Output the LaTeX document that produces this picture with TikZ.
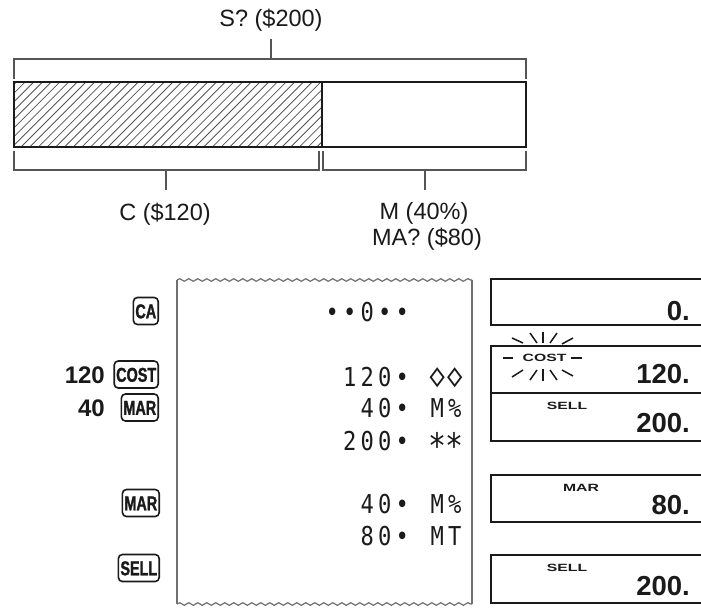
\documentclass[tikz,border=0pt]{standalone}
\usepackage{fontspec}
\setmainfont{Liberation Sans}
\newfontface\keyfont[FakeStretch=0.72,FakeBold=1.3]{Liberation Sans Bold}
\newfontfamily\tapefont[FakeStretch=0.85]{DejaVu Sans Mono}
\newfontface\lblfont[FakeStretch=1.5]{Liberation Sans Bold}
\usetikzlibrary{decorations.pathmorphing}
\definecolor{ink}{HTML}{1A1A1A}
\definecolor{brkgray}{HTML}{555555}
\definecolor{tapegray}{HTML}{707070}
\newcommand\tc[1]{\makebox[17.5pt][c]{#1}}
\newcommand\dmd{\scalebox{1.15}[1.3]{◇}}
\newcommand\tapeast{\raisebox{-8pt}{\scalebox{1.35}{*}}}
\tikzset{
  lab/.style={inner sep=0pt, text=ink, font=\fontsize{23.5}{26}\selectfont},
  brk/.style={draw=brkgray, line width=1.3pt},
  barline/.style={draw=ink, line width=2.5pt},
  hatchline/.style={draw=brkgray, line width=0.8pt},
  tapeline/.style={draw=tapegray, line width=1.2pt},
  wavy/.style={tapeline, decorate, decoration={snake, segment length=9pt, amplitude=1.3pt}},
  tapetext/.style={anchor=east, inner sep=0pt, text=ink, text height=19pt, text depth=0pt,
    font=\tapefont\fontsize{26}{26}\selectfont},
  keybox/.style={draw=ink, line width=1.6pt, rounded corners=4pt, inner xsep=2pt, inner ysep=0pt,
    minimum height=27pt, anchor=east, text=ink, text height=14.5pt, text depth=0pt,
    font=\keyfont\fontsize{20}{20}\selectfont},
  keynum/.style={anchor=east, inner sep=0pt, text=ink, text height=17pt, text depth=0pt,
    font=\bfseries\fontsize{24}{24}\selectfont},
  disp/.style={draw=ink, line width=2pt},
  dnum/.style={anchor=east, inner sep=0pt, text=ink, text height=20pt, text depth=0pt,
    font=\bfseries\fontsize{27.5}{27.5}\selectfont},
  dlbl/.style={inner sep=0pt, text=ink, text height=7.5pt, text depth=0pt,
    font=\lblfont\fontsize{10.5}{10.5}\selectfont},
  ray/.style={draw=ink, line width=1.5pt}
}
\begin{document}
\begin{tikzpicture}[x=1pt,y=-1pt]
\useasboundingbox (0,0) rectangle (701,608);
\fill[white] (0,0) rectangle (701,608);

% ---- top bar diagram ----
\node[lab] (S) at (271,20) {S? (\$200)};
\coordinate (stop) at (271,39);
\coordinate (sbot) at (271,59);
\draw[brk] (14,79) -- (14,59) -- (526,59) -- (526,79);
\draw[brk] (stop) -- (sbot);

\begin{scope}
  \clip (14,82) rectangle (322,147);
  \foreach \i in {-66,-57.3,...,330} \draw[hatchline] (\i,147) -- ++(66,-66);
\end{scope}
\draw[barline] (14,82) rectangle (526,147);
\draw[barline] (322,82) -- (322,147);

\draw[brk] (14,151) -- (14,170) -- (319,170) -- (319,151);
\draw[brk] (323,151) -- (323,170) -- (526,170) -- (526,151);
\coordinate (ctop) at (166,170);
\coordinate (cbot) at (166,190);
\coordinate (mtop) at (425,170);
\coordinate (mbot) at (425,190);
\draw[brk] (ctop) -- (cbot);
\draw[brk] (mtop) -- (mbot);
\node[lab] (C) at (165,214) {C (\$120)};
\node[lab] (M) at (424,213) {M (40\%)};
\node[lab] (MA) at (427,239) {MA? (\$80)};

% ---- keys ----
\node[keybox] (kCA) at (159,311) {CA};
\node[keynum] (n120) at (105,375) {120};
\node[keybox] (kCOST) at (159,374.5) {COST};
\node[keynum] (n40) at (105,408) {40};
\node[keybox] (kMAR1) at (159,407.5) {MAR};
\node[keybox] (kMAR2) at (160,503) {MAR};
\node[keybox] (kSELL) at (160,568) {SELL};

% ---- paper tape ----
\draw[tapeline] (177,280) -- (177,604);
\draw[tapeline] (472,280) -- (472,604);
\draw[wavy] (177,280) -- (472,280);
\draw[wavy] (177,604) -- (472,604);

\node[tapetext] (t0) at (411.25,312) {\tc{•}\tc{•}\tc{0}\tc{•}\tc{•}};
\node[tapetext] (t1) at (463.75,377) {\tc{1}\tc{2}\tc{0}\tc{•}\tc{}\tc{\dmd}\tc{\dmd}};
\node[tapetext] (t2) at (463.75,407.5) {\tc{4}\tc{0}\tc{•}\tc{}\tc{M}\tc{\%}};
\node[tapetext] (t3) at (463.75,441) {\tc{2}\tc{0}\tc{0}\tc{•}\tc{}\tc{\tapeast}\tc{\tapeast}};
\node[tapetext] (t4) at (463.75,504) {\tc{4}\tc{0}\tc{•}\tc{}\tc{M}\tc{\%}};
\node[tapetext] (t5) at (463.75,536) {\tc{8}\tc{0}\tc{•}\tc{}\tc{M}\tc{T}};

% ---- displays ----
\draw[disp] (705,279) -- (491,279) -- (491,325) -- (705,325);
\draw[disp] (705,346) -- (491,346) -- (491,441) -- (705,441);
\draw[disp] (491,393) -- (705,393);
\draw[disp] (705,475) -- (491,475) -- (491,522) -- (705,522);
\draw[disp] (705,555) -- (491,555) -- (491,603) -- (705,603);

\node[dnum] (d0) at (690,310.5) {0.};
\node[dnum] (d120) at (690,373) {120.};
\node[dnum] (d200) at (690,422) {200.};
\node[dnum] (d80) at (690,504) {80.};
\node[dnum] (d200b) at (690,585) {200.};

\node[dlbl] (lCOST) at (544.5,357.5) {COST};
\node[dlbl] (lSELL1) at (567,405.5) {SELL};
\node[dlbl] (lMAR) at (581,487.5) {MAR};
\node[dlbl] (lSELL2) at (567,567.5) {SELL};

% flashing rays round COST
\draw[ray] (503,358) -- (513,358);
\draw[ray] (571,358) -- (582,358);
\draw[ray] (512,338) -- (523,343);
\draw[ray] (530,333) -- (537,343);
\draw[ray] (543,332) -- (543,343);
\draw[ray] (557,333) -- (550,343);
\draw[ray] (573,338) -- (562,344);
\draw[ray] (512,377) -- (523,370);
\draw[ray] (530,380) -- (537,370);
\draw[ray] (543,381) -- (543,369);
\draw[ray] (557,380) -- (550,370);
\draw[ray] (573,376) -- (562,370);
\end{tikzpicture}
\end{document}
